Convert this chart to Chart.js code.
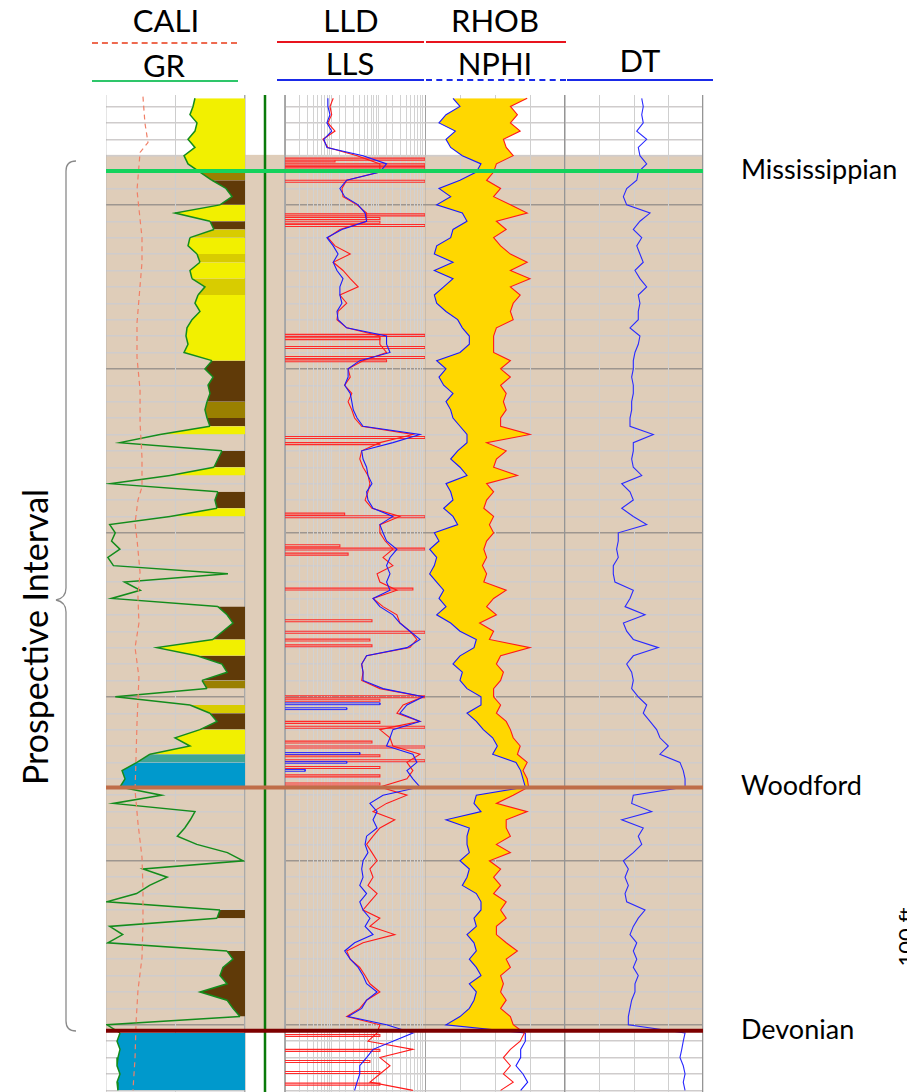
<!DOCTYPE html>
<html>
<head>
<meta charset="utf-8">
<title>Well log - prospective interval</title>
<script src="https://cdn.jsdelivr.net/npm/chart.js@4.4.1/dist/chart.umd.min.js"></script>
<style>
  html, body { margin: 0; padding: 0; background: #fff; }
  body { position: relative; width: 907px; height: 1092px; overflow: hidden; font-family: Lato, "Open Sans", sans-serif; color: #000; }
  canvas.track { position: absolute; top: 95px; }
  .hdr { position: absolute; width: 150px; text-align: center; font-size: 31px; line-height: 31px; }
  .key { position: absolute; height: 2px; }
  .dash { position: absolute; height: 0; }
  .topname { position: absolute; left: 741px; font-size: 27px; line-height: 27px; white-space: nowrap; }
  #interval { position: absolute; left: 35px; top: 637px; transform: translate(-50%, -50%) rotate(-90deg); font-size: 34px; line-height: 34px; white-space: nowrap; }
  #scalebar { position: absolute; left: 906px; top: 937px; transform: translate(-50%, -50%) rotate(-90deg); font-size: 22px; line-height: 22px; white-space: nowrap; }
</style>
</head>
<body>

<div class="hdr" style="left:91px; top:5px">CALI</div>
<div class="dash" style="left:92px; top:42px; width:145px; border-top:2px dashed #ee6a50"></div>
<div class="hdr" style="left:89px; top:50px">GR</div>
<div class="key" style="left:92px; top:80px; width:146px; background:#2ec66a"></div>

<div class="hdr" style="left:276px; top:5px">LLD</div>
<div class="key" style="left:277px; top:41px; width:147px; background:#e8141e"></div>
<div class="hdr" style="left:275px; top:48px">LLS</div>
<div class="key" style="left:277px; top:79px; width:147px; background:#1a2ae8"></div>

<div class="hdr" style="left:420px; top:5px">RHOB</div>
<div class="key" style="left:426px; top:41px; width:140px; background:#e8141e"></div>
<div class="hdr" style="left:420px; top:48px">NPHI</div>
<div class="dash" style="left:426px; top:79px; width:140px; border-top:2px dashed #1a2ae8"></div>

<div class="hdr" style="left:565px; top:45px">DT</div>
<div class="key" style="left:567px; top:79px; width:146px; background:#1a2ae8"></div>

<svg style="position:absolute; left:0; top:0" width="100" height="1092">
  <path d="M76 161 Q66 161 66 171 L66 588 Q66 598 56 600 Q66 602 66 612 L66 1021 Q66 1031 76 1031" fill="none" stroke="#8a8a8a" stroke-width="1.3"/>
</svg>
<div id="interval">Prospective Interval</div>
<div id="scalebar">100 ft</div>

<canvas class="track" id="trkGR" width="140" height="997" style="left:106px"></canvas>
<canvas class="track" id="trkDepth" width="41" height="997" style="left:245px"></canvas>
<canvas class="track" id="trkRes" width="141" height="997" style="left:285px"></canvas>
<canvas class="track" id="trkDen" width="141" height="997" style="left:425px"></canvas>
<canvas class="track" id="trkDT" width="139" height="997" style="left:565px"></canvas>

<script>
// depth window of the display, ft
var DEPTH_MIN = 4933, DEPTH_MAX = 5541;

// sample depths, every 5 ft
var depths = [
  4935, 4940, 4945, 4950, 4955, 4960, 4965, 4970, 4975, 4980,
  4985, 4990, 4995, 5000, 5005, 5010, 5015, 5020, 5025, 5030,
  5035, 5040, 5045, 5050, 5055, 5060, 5065, 5070, 5075, 5080,
  5085, 5090, 5095, 5100, 5105, 5110, 5115, 5120, 5125, 5130,
  5135, 5140, 5145, 5150, 5155, 5160, 5165, 5170, 5175, 5180,
  5185, 5190, 5195, 5200, 5205, 5210, 5215, 5220, 5225, 5230,
  5235, 5240, 5245, 5250, 5255, 5260, 5265, 5270, 5275, 5280,
  5285, 5290, 5295, 5300, 5305, 5310, 5315, 5320, 5325, 5330,
  5335, 5340, 5345, 5350, 5355, 5360, 5365, 5370, 5375, 5380,
  5385, 5390, 5395, 5400, 5405, 5410, 5415, 5420, 5425, 5430,
  5435, 5440, 5445, 5450, 5455, 5460, 5465, 5470, 5475, 5480,
  5485, 5490, 5495, 5500, 5505, 5510, 5515, 5520, 5525, 5530,
  5535, 5540
];

// gamma ray, API (values above 150 wrap back into the track)
var grValues = [
  96.0, 93.9, 90.6, 98.2, 96.0, 88.5, 96.0, 84.2, 88.5, 101.4,
  114.4, 129.5, 136.0, 123.0, 74.5, 112.2, 116.5, 90.6, 88.5, 98.2,
  101.4, 90.6, 92.8, 106.8, 99.3, 96.0, 101.4, 92.8, 87.4, 86.3,
  88.5, 84.2, 114.4, 106.8, 115.5, 110.1, 112.2, 109.0, 106.8, 109.0,
  112.2, 58.3, 165, 125.2, 120.8, 116.5, 69.1, 154, 120.8, 117.6,
  119.8, 69.1, 154, 160, 156, 165, 152, 158, 131.6, 170,
  187, 156, 120.8, 130.6, 137.0, 126.2, 115.5, 55.0, 98.2, 125.2,
  130.6, 103.6, 109.0, 160, 90.6, 112.2, 119.8, 101.4, 74.5, 90.6,
  47.5, 33.4, 17.3, 20.5, 15.1, 210, 158, 96.0, 241, 235,
  227, 248, 281, 298, 190, 216, 197, 183, 151, 123.0,
  119.8, 154, 168, 152, 130.6, 137.0, 126.2, 123.0, 130.6, 101.4,
  130.6, 137.0, 144.6, 151, 15.1, 11.9, 15.1, 12.9, 11.9, 15.1,
  11.9, 12.9
];

// caliper, in (own depth samples)
var caliDepths = [4934, 4950, 4962, 4968, 4991, 5020, 5035, 5072, 5093, 5113, 5133, 5154, 5172, 5180, 5194, 5204, 5224,
  5239, 5255, 5270, 5288, 5316, 5337, 5357, 5377, 5398, 5418, 5438, 5459, 5479, 5499, 5520, 5540];
var caliValues = [8.66, 8.8, 9.02, 8.45, 8.23, 8.59, 8.59, 8.23, 8.23, 8.45, 8.45, 8.59, 8.59, 8.3, 8.09, 8.23, 8.45,
  8.3, 8.37, 8.09, 8.37, 8.23, 8.16, 8.09, 8.3, 8.59, 8.66, 8.66, 8.59, 8.3, 8.16, 8.09, 7.94];

// deep laterolog, ohm-m
var lldValues = [
  10.8, 9.2, 10, 8.3, 11.8, 6.5, 8.3, 35, 108, 108,
  21, 16.6, 17.5, 35, 56, 56, 15, 8.3, 11.8, 25,
  10.8, 17.5, 25, 37, 15, 21, 13.7, 13, 21, 108,
  108, 150, 47, 22.5, 25, 19, 27, 22.5, 27, 31,
  44, 550, 108, 44, 40, 47, 60, 66, 60, 52,
  73, 290, 108, 108, 140, 205, 126, 205, 94, 108,
  250, 77, 126, 250, 290, 475, 670, 475, 56, 44,
  47, 44, 108, 920, 340, 250, 780, 108, 178, 205,
  780, 410, 550, 410, 108, 410, 150, 77, 225, 108,
  77, 56, 73, 94, 66, 77, 60, 94, 66, 47,
  108, 66, 225, 47, 21, 25, 40, 52, 66, 108,
  56, 40, 21, 108, 94, 60, 550, 108, 178, 108,
  66, 550
];

// shallow laterolog, ohm-m
var llsValues = [
  8.3, 8.3, 9.2, 7.9, 10, 6.8, 7.9, 47, 150, 108,
  21, 15, 19, 37, 52, 56, 16.6, 7.9, 10.8, 13.7,
  10.8, 13, 17.5, 15, 15, 16.6, 13, 13.7, 21, 150,
  150, 178, 40, 22.5, 22.5, 19, 25, 27, 29, 35,
  47, 780, 205, 44, 47, 56, 60, 73, 56, 60,
  77, 205, 108, 126, 150, 250, 178, 150, 178, 150,
  178, 77, 108, 205, 290, 475, 780, 410, 56, 44,
  47, 47, 126, 920, 410, 290, 780, 205, 178, 150,
  550, 670, 410, 550, 780, 126, 66, 94, 77, 94,
  56, 52, 60, 47, 44, 47, 40, 56, 40, 47,
  66, 52, 77, 31, 19, 25, 37, 47, 56, 94,
  56, 44, 22.5, 150, 550, 205, 77, 56, 40, 40,
  35, 31
];

// LLD wrap-around excursions: depth and how far they reach
var lldWrapDepths = [4971.5, 4972.6, 4975, 4977, 4978.7, 4985, 5005.5, 5007.7, 5010, 5012, 5079, 5081, 5086.4, 5092.5,
  5094.5, 5141.3, 5145, 5188, 5189.6, 5207.3, 5209.3, 5212.4, 5233.7, 5253, 5260, 5264.8, 5268.3, 5299.4, 5301.5,
  5315, 5318, 5327, 5330, 5335.4, 5338.4, 5342.5, 5347.6, 5352.6, 5506, 5515, 5521.8, 5528.5, 5535.6];
var lldWrapReach = [1000, 11.8, 1000, 1000, 108, 1000, 1000, 108, 108, 1000, 1000, 108, 1000, 1000,
  150, 1000, 108, 19, 1000, 15, 1000, 22.5, 550, 73, 1000, 66, 73, 1000, 108,
  108, 1000, 73, 1000, 108, 1000, 108, 108, 108, 108, 108, 66, 108, 108];
var llsWrapDepths = [5303.7, 5306.7, 5334, 5339.4, 5344.3];
var llsWrapReach = [108, 21, 40, 21, 2.7];

// bulk density, g/cc
var rhobValues = [
  2.68, 2.56, 2.61, 2.56, 2.63, 2.51, 2.53, 2.58, 2.46, 2.44,
  2.39, 2.49, 2.44, 2.56, 2.68, 2.46, 2.53, 2.44, 2.49, 2.56,
  2.68, 2.56, 2.70, 2.56, 2.63, 2.58, 2.56, 2.58, 2.46, 2.44,
  2.44, 2.44, 2.56, 2.49, 2.56, 2.49, 2.53, 2.51, 2.53, 2.49,
  2.49, 2.70, 2.39, 2.53, 2.46, 2.44, 2.61, 2.39, 2.44, 2.39,
  2.37, 2.44, 2.41, 2.44, 2.39, 2.37, 2.39, 2.36, 2.39, 2.37,
  2.53, 2.44, 2.39, 2.46, 2.34, 2.44, 2.41, 2.70, 2.49, 2.46,
  2.51, 2.49, 2.44, 2.44, 2.49, 2.46, 2.53, 2.56, 2.58, 2.63,
  2.61, 2.68, 2.65, 2.68, 2.69, 2.58, 2.46, 2.68, 2.53, 2.53,
  2.56, 2.46, 2.56, 2.41, 2.49, 2.44, 2.49, 2.44, 2.53, 2.49,
  2.53, 2.46, 2.46, 2.53, 2.61, 2.53, 2.56, 2.49, 2.51, 2.49,
  2.53, 2.49, 2.56, 2.58, 2.66, 2.63, 2.56, 2.51, 2.56, 2.51,
  2.58, 2.49
];

// neutron porosity, v/v
var nphiValues = [
  0.33, 0.30, 0.36, 0.39, 0.32, 0.36, 0.34, 0.29, 0.21, 0.23,
  0.30, 0.39, 0.34, 0.40, 0.29, 0.27, 0.33, 0.34, 0.40, 0.41,
  0.33, 0.41, 0.33, 0.37, 0.41, 0.40, 0.36, 0.31, 0.29, 0.26,
  0.26, 0.30, 0.40, 0.36, 0.39, 0.37, 0.33, 0.36, 0.34, 0.33,
  0.30, 0.27, 0.27, 0.31, 0.34, 0.30, 0.27, 0.36, 0.34, 0.33,
  0.37, 0.33, 0.31, 0.41, 0.39, 0.43, 0.40, 0.41, 0.43, 0.40,
  0.37, 0.39, 0.36, 0.40, 0.34, 0.30, 0.23, 0.24, 0.30, 0.33,
  0.29, 0.30, 0.27, 0.21, 0.21, 0.27, 0.23, 0.20, 0.16, 0.14,
  0.16, 0.06, 0.04, 0.03, 0.02, 0.23, 0.24, 0.21, 0.36, 0.26,
  0.27, 0.27, 0.26, 0.30, 0.26, 0.27, 0.29, 0.23, 0.21, 0.21,
  0.24, 0.23, 0.27, 0.24, 0.23, 0.26, 0.23, 0.21, 0.26, 0.23,
  0.24, 0.26, 0.30, 0.36, 0.02, 0.02, 0.04, 0.04, 0.06, 0.03,
  0.01, 0.04
];

// sonic, us/ft
var dtValues = [
  84.4, 83.3, 84.4, 83.3, 88.0, 80.8, 86.9, 85.7, 80.8, 86.9,
  88.0, 95.3, 97.7, 95.3, 78.4, 85.7, 90.5, 84.4, 88.0, 85.7,
  83.3, 89.3, 85.7, 80.8, 86.9, 85.7, 86.9, 86.9, 92.9, 85.7,
  86.9, 89.3, 90.5, 90.5, 91.7, 90.5, 90.5, 91.7, 91.7, 92.9,
  92.9, 76.0, 90.5, 90.5, 91.7, 90.5, 84.4, 98.9, 92.9, 90.5,
  98.9, 90.5, 80.8, 101.4, 101.4, 102.6, 101.4, 105.0, 105.0, 103.8,
  90.5, 92.9, 96.5, 82.0, 97.7, 95.3, 90.5, 72.4, 90.5, 95.3,
  91.7, 90.5, 91.7, 86.9, 80.8, 83.3, 78.4, 73.6, 71.2, 65.1,
  71.2, 56.7, 54.3, 53.0, 53.0, 90.5, 91.7, 77.2, 98.9, 83.3,
  86.9, 84.4, 90.5, 97.7, 94.1, 96.5, 94.1, 96.5, 95.3, 82.0,
  86.9, 90.5, 92.9, 88.0, 90.5, 88.0, 90.5, 86.9, 89.3, 89.3,
  91.7, 92.9, 94.1, 94.1, 53.0, 54.3, 55.4, 56.7, 54.3, 53.0,
  54.3, 53.0
];

// formation tops
var topNames = ['Mississippian', 'Woodford', 'Devonian'];
var topDepths = [4979.3, 5355.3, 5503.7];
var topColors = ['#14d25c', '#bf6d48', '#7d0000'];
var intervalTop = 4969.5;   // shaded interval starts here, ends at Devonian top

var GRID_STEP = 10, GRID_MAJOR = 100;
var gridDepths = [];
for (var g = 4940; g <= 5540; g += GRID_STEP) gridDepths.push(g);

function series(values, dpt) {
  dpt = dpt || depths;
  return dpt.map(function(d, i) { return {x: values[i], y: d}; });
}

function wrapSticks(dpt, reach, base, thick) {
  var pts = [];
  dpt.forEach(function(d, i) {
    pts.push({x: base, y: d}, {x: reach[i], y: d}, {x: reach[i], y: d + thick}, {x: base, y: d + thick}, {x: null, y: d + thick});
  });
  return pts;
}

function grColor(v) {
  if (v >= 110) return '#603a08';
  if (v >= 104) return '#9a8000';
  if (v >= 99.5) return '#d8cc00';
  if (v >= 62) return '#f2f000';
  if (v >= 48) return '#a6cc30';
  if (v >= 30) return '#3fa596';
  return '#0099cc';
}

var logPanel = {
  id: 'logPanel',
  beforeDraw: function(chart) {
    var a = chart.chartArea, y = chart.scales.y, c = chart.ctx;
    var y0 = y.getPixelForValue(intervalTop), y1 = y.getPixelForValue(topDepths[2]);
    c.save();
    c.fillStyle = '#dfcdb9';
    c.fillRect(a.left, y0, a.right - a.left, y1 - y0);
    c.restore();
  },
  afterDatasetsDraw: function(chart) {
    var a = chart.chartArea, y = chart.scales.y, c = chart.ctx;
    c.save();
    topDepths.forEach(function(d, i) {
      var py = y.getPixelForValue(d);
      c.strokeStyle = topColors[i];
      c.lineWidth = 4;
      c.beginPath();
      c.moveTo(a.left, py);
      c.lineTo(a.right, py);
      c.stroke();
    });
    c.restore();
  }
};

function depthAxis(showGrid) {
  return {
    type: 'linear', axis: 'y', min: DEPTH_MIN, max: DEPTH_MAX, reverse: true,
    ticks: {display: false},
    afterBuildTicks: function(s) { s.ticks = gridDepths.map(function(v) { return {value: v}; }); },
    grid: {
      display: showGrid, drawTicks: false,
      color: function(ctx) { return ctx.tick && ctx.tick.value % GRID_MAJOR === 0 ? '#9d9690' : '#cfcccc'; },
      lineWidth: function(ctx) { return ctx.tick && ctx.tick.value % GRID_MAJOR === 0 ? 1.6 : 1.4; }
    },
    border: {display: false}
  };
}

// value axis; tickValues given -> vertical gridlines at those values, else hidden
function valueAxis(opts, tickValues, edgeColor, innerColor, isEdge) {
  var ax = Object.assign({axis: 'x', ticks: {display: false}, border: {display: false}}, opts);
  if (tickValues) {
    ax.afterBuildTicks = function(s) { s.ticks = tickValues.map(function(v) { return {value: v}; }); };
    ax.grid = {
      drawTicks: false,
      color: function(ctx) { return ctx.tick && isEdge(ctx.tick.value) ? edgeColor : innerColor; },
      lineWidth: function(ctx) { return ctx.tick && isEdge(ctx.tick.value) ? 1.3 : 1; }
    };
  } else {
    ax.display = false;
  }
  return ax;
}

function makeTrack(id, scales, datasets) {
  return new Chart(document.getElementById(id), {
    type: 'line',
    data: {datasets: datasets},
    options: {
      indexAxis: 'y', responsive: false, animation: false, events: [],
      layout: {padding: {right: 1}},
      elements: {point: {radius: 0}, line: {tension: 0, borderWidth: 1}},
      plugins: {legend: {display: false}, tooltip: {enabled: false}},
      scales: scales
    },
    plugins: [logPanel]
  });
}

// track 1: GR + CALI
var grShown = grValues.map(function(v) { return v > 150 ? v - 150 : v; });
makeTrack('trkGR', {
  y: depthAxis(true),
  x: valueAxis({type: 'linear', min: 0, max: 150}, [0, 75, 150], '#a9a9a9', '#cdcdcd',
    function(v) { return v === 0 || v === 150; }),
  xc: valueAxis({type: 'linear', min: 6, max: 16})
}, [
  {data: series(caliValues, caliDepths), xAxisID: 'xc', yAxisID: 'y', borderColor: '#f08068', borderWidth: 1.2, borderDash: [5, 4], fill: false},
  {data: series(grShown), xAxisID: 'x', yAxisID: 'y', borderColor: '#138c1c', borderWidth: 1.5,
    backgroundColor: '#f2f000', fill: {value: 150},
    segment: {
      backgroundColor: function(ctx) {
        var a = grValues[ctx.p0DataIndex], b = grValues[ctx.p1DataIndex];
        if (a > 150 || b > 150) return 'rgba(0,0,0,0)';
        return grColor((a + b) / 2);
      }
    }}
]);

// depth track
makeTrack('trkDepth', {
  y: depthAxis(false),
  x: valueAxis({type: 'linear', min: 0, max: 1}, [0, 1], '#aaaaaa', '#aaaaaa', function() { return true; })
}, [
  {data: [{x: 0.5, y: DEPTH_MIN}, {x: 0.5, y: DEPTH_MAX}], xAxisID: 'x', yAxisID: 'y', borderColor: '#0a7a0a', borderWidth: 2.5, fill: false}
]);

// track 2: resistivity, log scale (gridlines from the log ticks)
makeTrack('trkRes', {
  y: depthAxis(true),
  x: {
    type: 'logarithmic', axis: 'x', min: 1, max: 1000,
    ticks: {display: false}, border: {display: false},
    grid: {
      drawTicks: false, lineWidth: 1,
      color: function(ctx) {
        var v = ctx.tick ? ctx.tick.value : 0;
        return (v === 1 || v === 1000) ? '#a5a5a5' : '#d2d2d2';
      }
    }
  }
}, [
  {data: series(llsValues), xAxisID: 'x', yAxisID: 'y', borderColor: '#1a1aff', borderWidth: 1.1, fill: false},
  {data: series(lldValues), xAxisID: 'x', yAxisID: 'y', borderColor: '#ff1a1a', borderWidth: 1.1, fill: false},
  {data: wrapSticks(llsWrapDepths, llsWrapReach, 1, 1.1), xAxisID: 'x', yAxisID: 'y', borderColor: '#2a2aff', borderWidth: 1, fill: false},
  {data: wrapSticks(lldWrapDepths, lldWrapReach, 1, 1.2), xAxisID: 'x', yAxisID: 'y', borderColor: '#ff2a2a', borderWidth: 1.1, fill: false}
]);

// track 3: RHOB / NPHI with crossover shading
function densPos(i) { return (rhobValues[i] - 1.95) / 1.0; }
function neutPos(i) { return (0.45 - nphiValues[i]) / 0.6; }
makeTrack('trkDen', {
  y: depthAxis(true),
  x: valueAxis({type: 'linear', min: 1.95, max: 2.95}, [1.95, 2.2, 2.45, 2.7, 2.95], '#959595', '#cfcfcf',
    function(v) { return v === 1.95 || v === 2.95; }),
  xn: valueAxis({type: 'linear', min: -0.15, max: 0.45, reverse: true})
}, [
  {data: series(rhobValues), xAxisID: 'x', yAxisID: 'y', borderColor: '#ff1a1a', borderWidth: 1.1, fill: false},
  {data: series(nphiValues), xAxisID: 'xn', yAxisID: 'y', borderColor: '#1a1aff', borderWidth: 1.1,
    backgroundColor: '#ffd700', fill: '-1',
    segment: {
      backgroundColor: function(ctx) {
        var i = ctx.p0DataIndex, j = ctx.p1DataIndex;
        return (neutPos(i) <= densPos(i) + 0.01 && neutPos(j) <= densPos(j) + 0.01) ? '#ffd700' : 'rgba(0,0,0,0)';
      }
    }}
]);

// track 4: DT
makeTrack('trkDT', {
  y: depthAxis(true),
  x: valueAxis({type: 'linear', min: 40, max: 140, reverse: true}, [140, 115, 90, 65, 40], '#959595', '#cfcfcf',
    function(v) { return v === 140 || v === 40; })
}, [
  {data: series(dtValues), xAxisID: 'x', yAxisID: 'y', borderColor: '#2a2aff', borderWidth: 1.1, fill: false}
]);

// formation names, placed at their tops
topNames.forEach(function(name, i) {
  var el = document.createElement('div');
  el.className = 'topname';
  el.textContent = name;
  var py = 95 + (topDepths[i] - DEPTH_MIN) / (DEPTH_MAX - DEPTH_MIN) * 997;
  el.style.top = (py - 16) + 'px';
  document.body.appendChild(el);
});
</script>
</body>
</html>
